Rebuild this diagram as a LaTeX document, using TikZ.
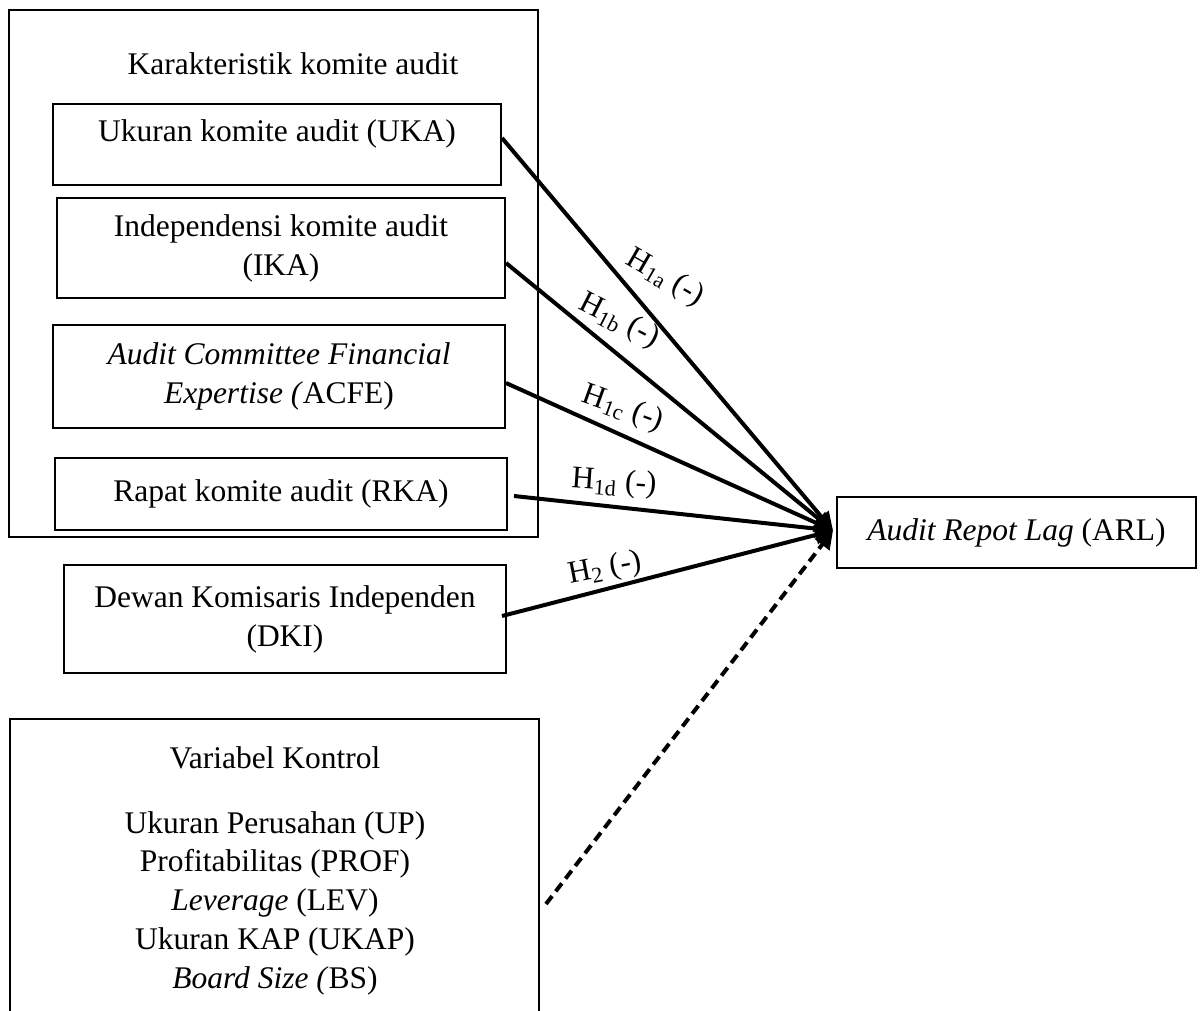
\documentclass[tikz,border=0pt]{standalone}
\usepackage{fontspec}
\setmainfont{Liberation Serif}
\usetikzlibrary{arrows.meta,calc}
\begin{document}
\begin{tikzpicture}[x=0.5pt,y=-0.5pt,
  txt/.style={font=\fontsize{15.75pt}{19.5pt}\selectfont, inner sep=0pt, align=center},
  box/.style={draw, line width=1pt, inner sep=0pt},
  wh/.style 2 args={minimum width=#1*0.5pt, minimum height=#2*0.5pt},
  conn/.style={line width=2pt, -{Triangle[length=9pt,width=9pt]}},
  dconn/.style={line width=2pt, dash pattern=on 5pt off 3pt, -{Triangle[length=9pt,width=9pt]}},
  hyp/.style={font=\fontsize{15.75pt}{19.5pt}\selectfont, inner sep=0pt}]
\useasboundingbox (0,0) rectangle (1200,1011);
\clip (0,0) rectangle (1200,1011);
% group box
\node[box, wh={529}{527}] (kar) at (273.5,273.5) {};
\node[txt] (kartitle) at (293,64) {Karakteristik komite audit};
% inner boxes
\node[box, wh={448}{81}] (uka) at (277,144.5) {};
\node[txt] (ukatext) at (277,134) {Ukuran komite audit (UKA)};
\node[box, txt, wh={448}{100}] (ika) at (281,248) {Independensi komite audit\\(IKA)};
\node[box, txt, wh={452}{103}] (acfe) at (279,376.5) {\textit{Audit Committee Financial}\\\textit{Expertise (}ACFE)};
\node[box, txt, wh={452}{72}] (rka) at (281,494) {Rapat komite audit (RKA)};
\node[box, txt, wh={442}{108}] (dki) at (285,619) {Dewan Komisaris Independen\\(DKI)};
\node[box, txt, wh={359}{71}] (arl) at (1016.5,532.5) {\textit{Audit Repot Lag} (ARL)};
% control box
\node[box, wh={529}{330}] (ctrl) at (274.5,884) {};
\node[txt, font=\fontsize{15.75pt}{19.4pt}\selectfont, anchor=north] (ctrltext) at (275,746)
  {Variabel Kontrol\\[13pt]Ukuran Perusahan (UP)\\Profitabilitas (PROF)\\\textit{Leverage} (LEV)\\Ukuran KAP (UKAP)\\\textit{Board Size (}BS)};
% connectors
\coordinate (tip) at ([xshift=-1.5pt,yshift=1pt]arl.west);
\coordinate (dstart) at (546,904);
\draw[conn] ([yshift=3.25pt]uka.east) -- (tip);
\draw[conn] ([yshift=-7.5pt]ika.east) -- (tip);
\draw[conn] ([yshift=-3.25pt]acfe.east) -- (tip);
\draw[conn] ([xshift=3pt,yshift=-1pt]rka.east) -- (tip);
\draw[conn] ([xshift=-2.5pt,yshift=1.5pt]dki.east) -- (tip);
\draw[dconn] (dstart) -- (tip);
% hypothesis labels
\node[hyp, rotate=-30] (h1a) at (665,278) {H\textsubscript{1a} (-)};
\node[hyp, rotate=-27] (h1b) at (619,321) {H\textsubscript{1b} (-)};
\node[hyp, rotate=-20] (h1c) at (623,409) {H\textsubscript{1c} (-)};
\node[hyp, rotate=-4] (h1d) at (614,483) {H\textsubscript{1d} (-)};
\node[hyp, rotate=11] (h2) at (605,569) {H\textsubscript{2} (-)};
\end{tikzpicture}
\end{document}
